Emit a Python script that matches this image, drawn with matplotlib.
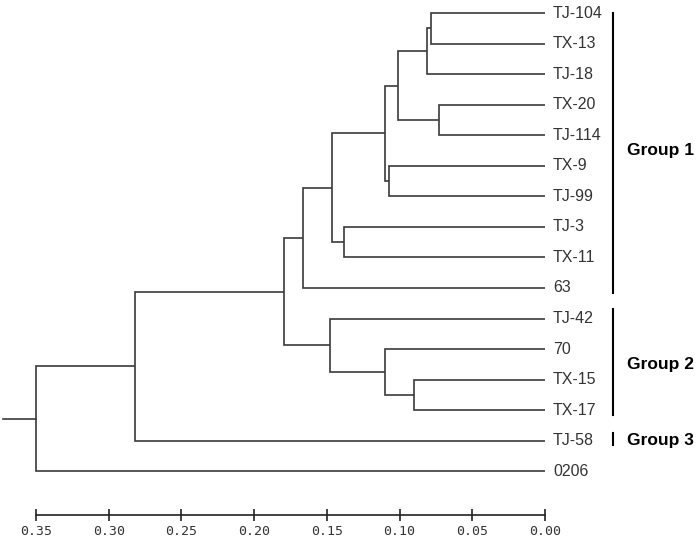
import matplotlib
matplotlib.use("Agg")
import matplotlib.pyplot as plt

# Leaves in top-to-bottom order
leaves = ["TJ-104", "TX-13", "TJ-18", "TX-20", "TJ-114", "TX-9", "TJ-99",
          "TJ-3", "TX-11", "63", "TJ-42", "70", "TX-15", "TX-17", "TJ-58", "0206"]

# Merges: (child A, child B, distance); new clusters are named "N<k>"
merge_a = ["TJ-104", "N0", "TX-20", "N1", "TX-9", "N3", "TJ-3", "N5", "N7",
           "TX-15", "70", "TJ-42", "N8", "N12", "N13"]
merge_b = ["TX-13", "TJ-18", "TJ-114", "N2", "TJ-99", "N4", "TX-11", "N6", "63",
           "TX-17", "N9", "N10", "N11", "TJ-58", "0206"]
merge_h = [0.0785, 0.081, 0.0726, 0.1012, 0.1074, 0.110, 0.1383, 0.1465, 0.1664,
           0.0897, 0.110, 0.1479, 0.1795, 0.2814, 0.3498]
root_stub = 0.372

# Group annotations
group_names = ["Group 1", "Group 2", "Group 3"]
group_first = ["TJ-104", "TJ-42", "TJ-58"]
group_last = ["63", "TX-17", "TJ-58"]

ticks = [0.35, 0.30, 0.25, 0.20, 0.15, 0.10, 0.05, 0.00]

W, H = 700, 538
fig = plt.figure(figsize=(W / 100, H / 100), dpi=100)
ax = fig.add_axes([0, 0, 1, 1])
spacing = 30.55
top = 13.0
ax.set_xlim(545 / 1456, (545 - 700) / 1456)
ax.set_ylim((538 - top) / spacing, -top / spacing)
ax.axis("off")

lc = "#3a3a3a"
lw = 1.2
pos = {name: (0.0, i) for i, name in enumerate(leaves)}
for k, (a, b, h) in enumerate(zip(merge_a, merge_b, merge_h)):
    xa, ya = pos[a]
    xb, yb = pos[b]
    ax.plot([xa, h, h, xb], [ya, ya, yb, yb], color=lc, lw=lw,
            solid_joinstyle="miter", solid_capstyle="butt")
    pos[f"N{k}"] = (h, (ya + yb) / 2)

rx, ry = pos[f"N{len(merge_h) - 1}"]
ax.plot([root_stub, rx], [ry, ry], color=lc, lw=lw)

for i, name in enumerate(leaves):
    ax.text(-0.0055, i, name, ha="left", va="center", fontsize=11.5,
            family="Liberation Sans", color="#333333")

# Group bars
bar_x = (545 - 612.5) / 1456
lbl_x = (545 - 627) / 1456
for gname, g0, g1 in zip(group_names, group_first, group_last):
    i0, i1 = leaves.index(g0), leaves.index(g1)
    if i0 == i1:
        y0, y1 = i0 - 0.25, i1 + 0.13
    else:
        y0 = i0 if i0 == 0 else i0 - 0.3
        y1 = i1 + 0.15
    ax.plot([bar_x, bar_x], [y0, y1], color="black", lw=1.5)
    ax.text(lbl_x, (i0 + i1) / 2, gname, ha="left", va="center", fontsize=12.5,
            family="Liberation Sans", fontweight="bold", color="black")

# Scale axis
ax2 = fig.add_axes([36 / W, (538 - 515) / H, (545 - 36) / W, 0.0001])
ax2.set_xlim(0.35, 0.0)
ax2.set_ylim(0, 1)
for s in ["left", "right", "top"]:
    ax2.spines[s].set_visible(False)
ax2.spines["bottom"].set_color("#222222")
ax2.spines["bottom"].set_linewidth(1.2)
ax2.set_yticks([])
ax2.set_xticks(ticks)
ax2.set_xticklabels([f"{t:.2f}" for t in ticks], family="DejaVu Sans Mono")
ax2.tick_params(axis="x", direction="inout", length=8, width=1.2, color="#222222",
                labelsize=9.5, labelcolor="#333333", pad=3)
ax2.patch.set_visible(False)

fig.savefig("out.png", dpi=100)
